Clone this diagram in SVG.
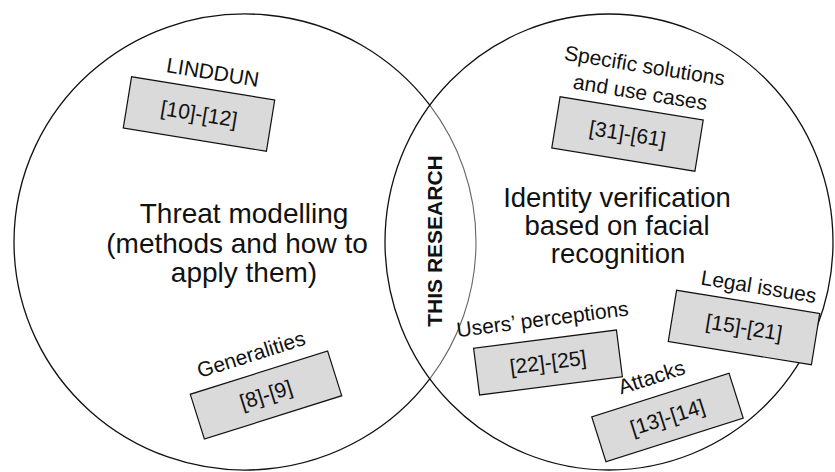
<svg xmlns="http://www.w3.org/2000/svg" width="835" height="472" viewBox="0 0 835 472">
  <style>
    text { font-family: "Liberation Sans", Arial, sans-serif; fill: #111; }
    .set { fill: none; stroke: #111; stroke-width: 1.3; }
    .inner { fill: none; stroke: #666; stroke-width: 1.1; }
    .title { font-size: 28px; text-anchor: middle; }
    .box { fill: #dadada; stroke: #111; stroke-width: 1.2; }
    .ref { font-size: 21px; text-anchor: middle; }
    .label { font-size: 21px; text-anchor: middle; }
    .focus { font-size: 21px; font-weight: bold; text-anchor: middle; }
  </style>

  <!-- Left set: threat modelling (outer arc black, arc inside the overlap grey) -->
  <g id="threat-modelling">
    <path class="set" d="M429.8,105.2 A231,228 0 1,0 429.8,378.8"/>
    <path class="inner" d="M429.8,378.8 A231,228 0 0,0 429.8,105.2"/>
    <text class="title" x="244" y="223">Threat modelling</text>
    <text class="title" x="237" y="253">(methods and how to</text>
    <text class="title" x="244" y="282">apply them)</text>
  </g>

  <!-- Right set: identity verification -->
  <g id="identity-verification">
    <ellipse class="set" cx="609" cy="242" rx="224" ry="228"/>
    <text class="title" style="font-size:27.5px" x="617" y="207">Identity verification</text>
    <text class="title" style="font-size:27.5px" x="617" y="235">based on facial</text>
    <text class="title" style="font-size:27.5px" x="618" y="263">recognition</text>
  </g>

  <!-- Overlap label -->
  <g id="this-research">
    <text class="focus" transform="translate(442,241) rotate(-90)">THIS RESEARCH</text>
  </g>

  <!-- Reference boxes -->
  <g id="linddun" transform="translate(199,114) rotate(9.2)">
    <rect class="box" x="-72.5" y="-26" width="145" height="52"/>
    <text class="ref" x="0" y="7">[10]-[12]</text>
    <text class="label" x="7" y="-36">LINDDUN</text>
  </g>

  <g id="generalities" transform="translate(266,395) rotate(-17.5)">
    <rect class="box" x="-72" y="-23.5" width="144" height="47"/>
    <text class="ref" x="0" y="7">[8]-[9]</text>
    <text class="label" x="-2" y="-36">Generalities</text>
  </g>

  <g id="specific-solutions" transform="translate(627.5,134) rotate(9.2)">
    <rect class="box" x="-72.5" y="-26" width="145" height="52"/>
    <text class="ref" x="0" y="7">[31]-[61]</text>
    <text class="label" x="6" y="-63">Specific solutions</text>
    <text class="label" x="6" y="-36">and use cases</text>
  </g>

  <g id="users-perceptions" transform="translate(548,362.5) rotate(-7.3)">
    <rect class="box" x="-72" y="-23.5" width="144" height="47"/>
    <text class="ref" x="0" y="7">[22]-[25]</text>
    <text class="label" x="0" y="-36.5">Users’ perceptions</text>
  </g>

  <g id="legal-issues" transform="translate(744,327.5) rotate(9.2)">
    <rect class="box" x="-72.5" y="-26" width="145" height="52"/>
    <text class="ref" x="0" y="7">[15]-[21]</text>
    <text class="label" x="8" y="-35.5">Legal issues</text>
  </g>

  <g id="attacks" transform="translate(667.5,417.5) rotate(-17.6)">
    <rect class="box" x="-72" y="-23.5" width="144" height="47"/>
    <text class="ref" x="0" y="7">[13]-[14]</text>
    <text class="label" x="-3" y="-36">Attacks</text>
  </g>
</svg>
